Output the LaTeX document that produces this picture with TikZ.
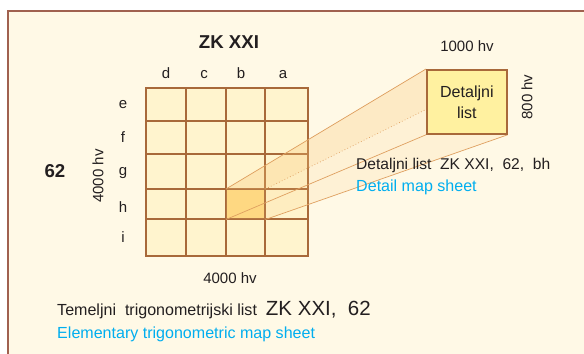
\documentclass[tikz,border=0pt]{standalone}
\usepackage{fontspec}
\setmainfont{Liberation Sans}
\usetikzlibrary{positioning}

\definecolor{paper}{HTML}{FFF9E6}
\definecolor{cellfill}{HTML}{FFF4CE}
\definecolor{gridbrown}{HTML}{A8693A}
\definecolor{framebrown}{HTML}{A0614F}
\definecolor{boxfill}{HTML}{FFF1A0}
\definecolor{hifill}{HTML}{FFDB85}
\definecolor{beamfill}{HTML}{F9C774}
\definecolor{beamedge}{HTML}{DFA060}
\definecolor{ink}{HTML}{231F20}
\definecolor{skyblue}{HTML}{00AEEF}

\pgfdeclarelayer{background}
\pgfdeclarelayer{beamlayer}
\pgfsetlayers{background,beamlayer,main}

\begin{document}
\begin{tikzpicture}[
    x=0.03cm, y=-0.03cm,
    gridline/.style={draw=gridbrown, line width=1.5pt, line cap=rect},
    lbl/.style={text=ink, inner sep=0pt, font=\fontsize{13.7}{16}\selectfont},
    small/.style={text=ink, inner sep=0pt, font=\fontsize{12.8}{15}\selectfont},
    head/.style={text=ink, inner sep=0pt, font=\fontsize{15.9}{18}\selectfont\bfseries},
    eng/.style={lbl, text=skyblue},
    hicell/.style={fill=hifill, anchor=north west, inner sep=0pt,
        minimum width=1.17cm, minimum height=0.9cm},
    detailbox/.style={draw=gridbrown, fill=boxfill, line width=1.5pt,
        anchor=north west, minimum width=2.4cm, minimum height=1.92cm,
        align=center, text=ink, font=\fontsize{13.7}{18}\selectfont},
    beamline/.style={draw=beamedge, line width=0.6pt}
]
\useasboundingbox (0,0) rectangle (584,353);

% frame and grid
\begin{pgfonlayer}{background}
\draw[framebrown, fill=paper, line width=1pt] (8,11) rectangle (600,370);
\fill[cellfill] (146,88) rectangle (308,256);
\node[hicell] (bh) at (226,189) {};
\foreach \gx in {146,186,226,265,308}
    \draw[gridline] (\gx,88) -- (\gx,256);
\foreach \gy in {88,121,154,189,219,256}
    \draw[gridline] (146,\gy) -- (308,\gy);
\end{pgfonlayer}

\node[detailbox] (detail) at (426,69) {Detaljni\\list};

% beam from cell bh to the detail sheet
\begin{pgfonlayer}{beamlayer}
\fill[beamfill, fill opacity=0.15] (bh.north west) -- (detail.north west)
    -- (detail.north east) -- (detail.south east) -- (bh.south east)
    -- (bh.south west) -- cycle;
\fill[beamfill, fill opacity=0.16] (bh.north west) -- (detail.north west)
    -- (detail.north east) -- (bh.north east) -- cycle;
\draw[beamline] (bh.north west) -- (detail.north west);
\draw[beamline, dotted] (bh.north east) -- (detail.north east);
\draw[beamline] (bh.south west) -- (detail.south west);
\draw[beamline] (bh.south east) -- (detail.south east);
\end{pgfonlayer}

% labels
\node[head, anchor=base] (title) at (229,48) {ZK XXI};
\node[head, anchor=base] (sheetno) at (55,177) {62};
\foreach \c/\cx in {d/166, c/204, b/241, a/283}
    \node[small, anchor=base] (col-\c) at (\cx,78) {\c};
\foreach \r/\ry in {e/105, f/137, g/173, h/207, i/237}
    \node[small] (row-\r) at (123,\ry) {\r};
\node[small, rotate=90] (height) at (98,176) {4000 hv};
\node[small] (width) at (230,278) {4000 hv};
\node[small] (boxwidth) at (467,46) {1000 hv};
\node[small, rotate=90] (boxheight) at (527,97) {800 hv};

\node[lbl, anchor=base west, font=\fontsize{13.3}{16}\selectfont] (detailname) at (356,169)
    {Detaljni list\ \ ZK XXI,\ \ 62,\ \ bh};
\node[eng, anchor=base west] (detaileng) at (356,191) {Detail\ map\ sheet};

\node[lbl, anchor=base west] (basename) at (57,315)
    {Temeljni\ \ trigonometrijski list\ \ {\fontsize{17.5}{20}\selectfont ZK XXI,\ \ 62}};
\node[eng, anchor=base west] (baseeng) at (57,338) {Elementary trigonometric map sheet};

\end{tikzpicture}
\end{document}
